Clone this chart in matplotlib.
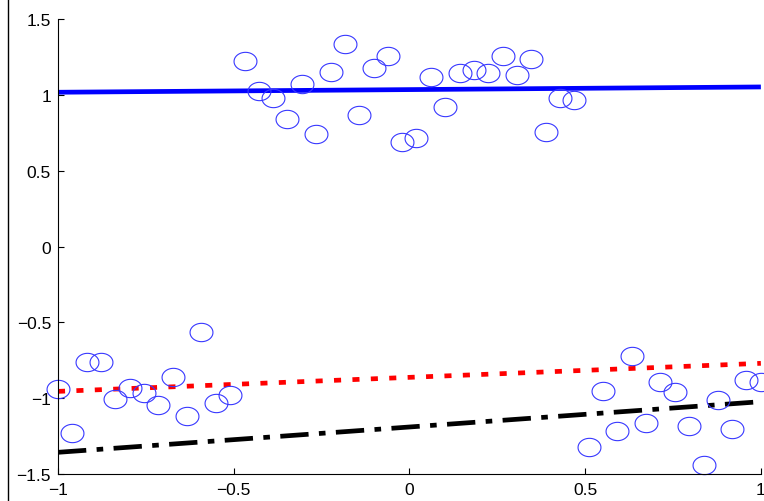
import matplotlib
matplotlib.use('Agg')
import matplotlib.pyplot as plt
import numpy as np
from matplotlib.lines import Line2D

plt.rcParams['font.family'] = ['Liberation Sans', 'DejaVu Sans']

# sample points
x_pts = [-1.000, -0.959, -0.918, -0.878, -0.837, -0.796, -0.755, -0.714, -0.673, -0.633,
         -0.592, -0.551, -0.510,
         -0.469, -0.429, -0.388, -0.347, -0.306, -0.265, -0.224, -0.184, -0.143, -0.102,
         -0.061, -0.020, 0.020, 0.061, 0.102, 0.143, 0.184, 0.224, 0.265, 0.306,
         0.347, 0.388, 0.429, 0.469,
         0.510, 0.551, 0.592, 0.633, 0.673, 0.714, 0.755, 0.796, 0.837, 0.878,
         0.918, 0.959, 1.000]
y_pts = [-0.939, -1.231, -0.764, -0.764, -1.005, -0.933, -0.968, -1.043, -0.858, -1.119,
         -0.562, -1.034, -0.977,
         1.225, 1.027, 0.983, 0.840, 1.071, 0.742, 1.152, 1.335, 0.867, 1.177,
         1.258, 0.687, 0.715, 1.119, 0.922, 1.142, 1.163, 1.142, 1.258, 1.133,
         1.236, 0.753, 0.983, 0.966,
         -1.324, -0.955, -1.214, -0.720, -1.166, -0.895, -0.961, -1.185, -1.438, -1.012,
         -1.203, -0.880, -0.895]

# fitted lines (end points)
line_x = [-1, 1]
blue_y = [1.018, 1.053]
red_y = [-0.955, -0.770]
black_y = [-1.357, -1.023]

fig = plt.figure(figsize=(7.64, 5.02), dpi=100)
ax = fig.add_axes([0.0759, 0.0538, 0.92, 0.906])

# slightly squashed circle marker (the original figure was stretched)
t = np.linspace(0, 2 * np.pi, 60)
ellipse = np.column_stack([np.cos(t), 0.8 * np.sin(t)])

ax.plot(line_x, blue_y, color='#0000ff', lw=3.4, solid_capstyle='butt')
ax.plot(line_x, red_y, color='#ff0000', lw=3.4, linestyle=(0, (1.5, 2.4)),
        dash_capstyle='butt')
ax.plot(line_x, black_y, color='black', lw=3.4, linestyle=(0, (6, 2.2, 1.4, 2.2)),
        dash_capstyle='butt')
ax.plot(x_pts, y_pts, linestyle='none', marker=ellipse, markersize=16.5,
        markerfacecolor='none', markeredgecolor='#3838ff', markeredgewidth=0.8,
        clip_on=False)

ax.set_xlim(-1, 1)
ax.set_ylim(-1.5, 1.5)
ax.set_xticks([-1, -0.5, 0, 0.5, 1])
ax.set_xticklabels(['\u22121', '\u22120.5', '0', '0.5', '1'])
ax.set_yticks([-1.5, -1, -0.5, 0, 0.5, 1, 1.5])
ax.set_yticklabels(['\u22121.5', '\u22121', '\u22120.5', '0', '0.5', '1', '1.5'])
ax.tick_params(direction='in', length=4, width=0.8, labelsize=12.5)
ax.tick_params(axis='x', pad=6)
ax.tick_params(axis='y', pad=5)
ax.spines['top'].set_visible(False)
ax.spines['right'].set_visible(False)
for s in ['left', 'bottom']:
    ax.spines[s].set_linewidth(0.8)

fig.add_artist(Line2D([0.0105, 0.0105], [0, 1], transform=fig.transFigure,
                      color='black', lw=1))

fig.savefig('out.png', dpi=100)
